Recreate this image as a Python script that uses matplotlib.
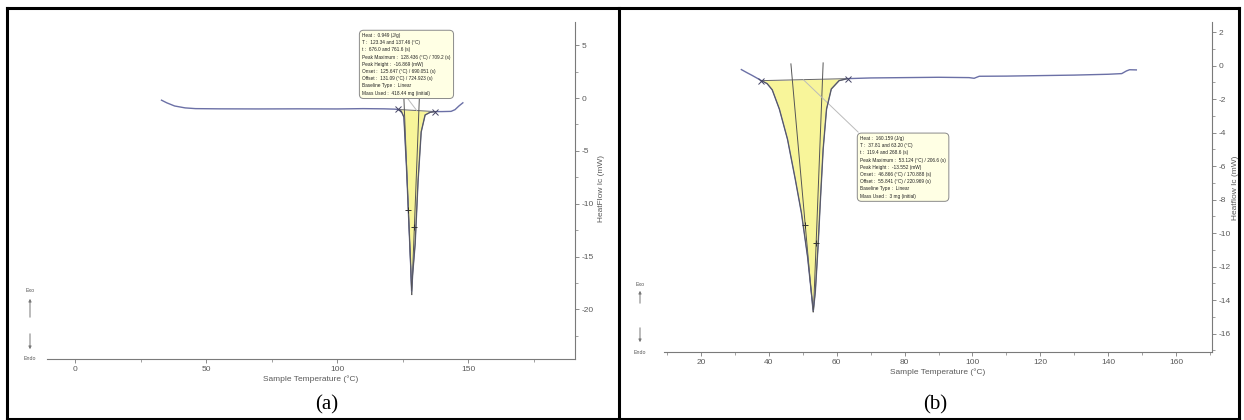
import numpy as np
import matplotlib
matplotlib.use('Agg')
import matplotlib.pyplot as plt
from matplotlib.lines import Line2D
from matplotlib.patches import FancyArrowPatch

plt.rcParams['axes.unicode_minus'] = False

# ---- panel (a) DSC trace
temp_a = [33, 35, 38, 42, 46, 55, 70, 85, 100, 110, 118, 122, 123.34, 124.5, 125.5,
          126.5, 127.5, 128.1, 128.45, 128.9, 129.8, 130.9, 132.1, 133.6, 135.5,
          137.46, 140, 143.5, 145, 146.5, 148]
hf_a = [-0.2, -0.45, -0.75, -0.93, -1.0, -1.02, -1.03, -1.02, -1.03, -1.0, -1.02,
        -1.05, -1.08, -1.25, -1.8, -6.6, -12.4, -15.9, -18.3, -16.5, -13.8, -7.9,
        -3.2, -1.6, -1.35, -1.28, -1.28, -1.26, -1.1, -0.75, -0.45]
base_a = [123.34, 137.46]
tang_a_left = [[125.5, 128.5], [0.0, -18.6]]
tang_a_right = [[131.4, 128.5], [0.0, -18.6]]
plus_a = [[127.2, 129.5], [-10.6, -12.2]]
info_a = ["Heat :  0.949 (J/g)",
          "T :  123.34 and 137.46 (°C)",
          "t :  676.0 and 761.6 (s)",
          "Peak Maximum :  128.436 (°C) / 709.2 (s)",
          "Peak Height :  -16.869 (mW)",
          "Onset :  125.647 (°C) / 690.051 (s)",
          "Offset :  131.09 (°C) / 724.923 (s)",
          "Baseline Type :  Linear",
          "Mass Used :  418.44 mg (initial)"]

# ---- panel (b) DSC trace
temp_b = [31.9, 33.5, 35.0, 36.5, 37.81, 39.5, 41.0, 43.1, 45.5, 47.8, 49.6, 51.4,
          52.5, 53.12, 53.7, 54.5, 55.2, 56.0, 57.0, 58.4, 60.7, 63.2, 70, 80, 90,
          99, 100.5, 102, 110, 120, 130, 140, 144, 145.4, 146.3, 148.3]
hf_b = [-0.24, -0.42, -0.58, -0.75, -0.9, -1.08, -1.45, -2.6, -4.4, -6.8, -8.8,
        -11.4, -13.5, -14.6, -13.5, -10.8, -8.0, -5.0, -2.6, -1.4, -0.9, -0.78,
        -0.74, -0.72, -0.7, -0.72, -0.76, -0.64, -0.63, -0.6, -0.57, -0.52, -0.48,
        -0.32, -0.25, -0.26]
base_b = [37.81, 63.20]
tang_b_left = [[46.5, 53.0], [0.1, -14.7]]
tang_b_right = [[56.0, 53.15], [0.16, -14.7]]
plus_b = [[50.6, 54.0], [-9.5, -10.6]]
info_b = ["Heat :  160.159 (J/g)",
          "T :  37.81 and 63.20 (°C)",
          "t :  119.4 and 268.6 (s)",
          "Peak Maximum :  53.124 (°C) / 206.6 (s)",
          "Peak Height :  -13.552 (mW)",
          "Onset :  46.866 (°C) / 170.888 (s)",
          "Offset :  55.841 (°C) / 220.969 (s)",
          "Baseline Type :  Linear",
          "Mass Used :  3 mg (initial)"]

W, H = 1244, 420
curve_col = '#6b70a6'
axis_col = '#7a7a7a'
tick_col = '#5a5a5a'
fill_col = '#f8f59a'
narrow = ['Liberation Sans Narrow', 'Liberation Sans', 'DejaVu Sans']

fig = plt.figure(figsize=(W / 100, H / 100), dpi=100)
fig.patch.set_facecolor('white')


def box_px(x0, x1, y_top, y_bot):
    # pixel box -> figure fraction rect
    return [x0 / W, 1 - y_bot / H, (x1 - x0) / W, (y_bot - y_top) / H]


def style_axis(ax, xlim, ylim, xmaj, xmin, ymaj, ymin):
    ax.set_xlim(*xlim)
    ax.set_ylim(*ylim)
    for s in ['top', 'left']:
        ax.spines[s].set_visible(False)
    for s in ['bottom', 'right']:
        ax.spines[s].set_color(axis_col)
        ax.spines[s].set_linewidth(0.8)
    ax.yaxis.tick_right()
    ax.yaxis.set_label_position('right')
    ax.set_xticks(xmaj)
    ax.set_xticks(xmin, minor=True)
    ax.set_yticks(ymaj)
    ax.set_yticks(ymin, minor=True)
    ax.tick_params(which='major', length=3, width=0.6, colors=axis_col,
                   labelcolor=tick_col, labelsize=6, pad=2)
    ax.tick_params(which='minor', length=2, width=0.5, colors=axis_col)
    for lab in ax.get_xticklabels() + ax.get_yticklabels():
        lab.set_family(narrow)
    ax.set_facecolor('white')


def draw_panel(ax, T, hf, base, tl, tr, plus, info, info_xy, conn):
    T = np.array(T)
    hf = np.array(hf)
    m = (T >= base[0]) & (T <= base[1])
    b0 = hf[T == base[0]][0]
    b1 = hf[T == base[1]][0]
    baseline = b0 + (b1 - b0) * (T[m] - base[0]) / (base[1] - base[0])
    ax.fill_between(T[m], baseline, hf[m], color=fill_col, lw=0, zorder=1)
    ax.plot(base, [b0, b1], color='#666666', lw=0.7, zorder=2)
    ax.plot(tl[0], tl[1], color='#555555', lw=0.7, zorder=2)
    ax.plot(tr[0], tr[1], color='#555555', lw=0.7, zorder=2)
    ax.plot(conn[0], conn[1], color='#bbbbbb', lw=0.7, zorder=2)
    ax.plot(T, hf, color=curve_col, lw=1.0, zorder=3)
    ax.plot(T[m], hf[m], color='#555555', lw=0.6, zorder=3)
    ax.plot(base, [b0, b1], ls='none', marker='x', ms=4, mew=0.7,
            color='#444466', zorder=4)
    ax.plot(plus[0], plus[1], ls='none', marker='+', ms=4, mew=0.7,
            color='#333333', zorder=4)
    ax.text(info_xy[0], info_xy[1], "\n".join(info), ha='left', va='top',
            fontsize=3.4, linespacing=1.55, family=narrow, color='#222222',
            zorder=5,
            bbox=dict(boxstyle='round,pad=0.6,rounding_size=0.9',
                      fc='#ffffe4', ec='#8a8a8a', lw=0.7))


# ---- panel (a)
ax1 = fig.add_axes(box_px(47, 575, 22, 359))
draw_panel(ax1, temp_a, hf_a, base_a, tang_a_left, tang_a_right, plus_a,
           info_a, (109.6, 6.15), [[126.8, 130.4], [0.0, -1.18]])
style_axis(ax1, (-10.7, 190.8), (-24.7, 7.2),
           [0, 50, 100, 150], [25, 75, 125, 175],
           [5, 0, -5, -10, -15, -20], np.arange(-22.5, 7, 2.5))
ax1.set_xlabel('Sample Temperature (°C)', fontsize=6, color=tick_col,
               family=narrow, labelpad=2)
ax1.set_ylabel('HeatFlow Ic (mW)', fontsize=6, color=tick_col, family=narrow)
ax1.yaxis.set_label_coords(1.044, 0.507)

# ---- panel (b)
ax2 = fig.add_axes(box_px(664, 1212, 22, 352))
draw_panel(ax2, temp_b, hf_b, base_b, tang_b_left, tang_b_right, plus_b,
           info_b, (66.9, -4.2), [[50.2, 66.3], [-0.85, -3.97]])
style_axis(ax2, (9.1, 170.6), (-17.1, 2.6),
           np.arange(20, 161, 20), np.arange(10, 171, 10),
           np.arange(-16, 3, 2), np.arange(-17, 3, 1))
ax2.set_xlabel('Sample Temperature (°C)', fontsize=6, color=tick_col,
               family=narrow, labelpad=2)
ax2.set_ylabel('Heatflow Ic (mW)', fontsize=6, color=tick_col, family=narrow)
ax2.yaxis.set_label_coords(1.036, 0.497)

# ---- Exo / Endo indicators (pixel positions measured from top-left)
for x, ye, yu0, yu1, yd0, yd1, yn in [(30, 290, 320, 296, 331, 352, 359),
                                      (640, 284, 306, 288, 325, 345, 353)]:
    fig.text(x / W, 1 - ye / H, 'Exo', fontsize=3.8, ha='center', va='center',
             color='#555555', family=narrow)
    fig.text(x / W, 1 - yn / H, 'Endo', fontsize=3.8, ha='center', va='center',
             color='#555555', family=narrow)
    for y0, y1 in [(yu0, yu1), (yd0, yd1)]:
        fig.add_artist(FancyArrowPatch(
            (x / W, 1 - y0 / H), (x / W, 1 - y1 / H), transform=fig.transFigure,
            arrowstyle='-|>', mutation_scale=4, lw=0.7, color='#777777'))

# ---- captions
fig.text(327 / W, 1 - 405 / H, '(a)', fontsize=15, family='Liberation Serif',
         ha='center', va='center')
fig.text(935 / W, 1 - 405 / H, '(b)', fontsize=15, family='Liberation Serif',
         ha='center', va='center')

# ---- table borders
lw_b = 2.2
for (x0, y0, x1, y1) in [(7, 8, 1239, 8), (7, 419, 1239, 419), (7, 8, 7, 419),
                         (1239, 8, 1239, 419), (619, 8, 619, 419)]:
    fig.add_artist(Line2D([x0 / W, x1 / W], [1 - y0 / H, 1 - y1 / H],
                          transform=fig.transFigure, color='black', lw=lw_b))

fig.savefig('out.png', dpi=100)
